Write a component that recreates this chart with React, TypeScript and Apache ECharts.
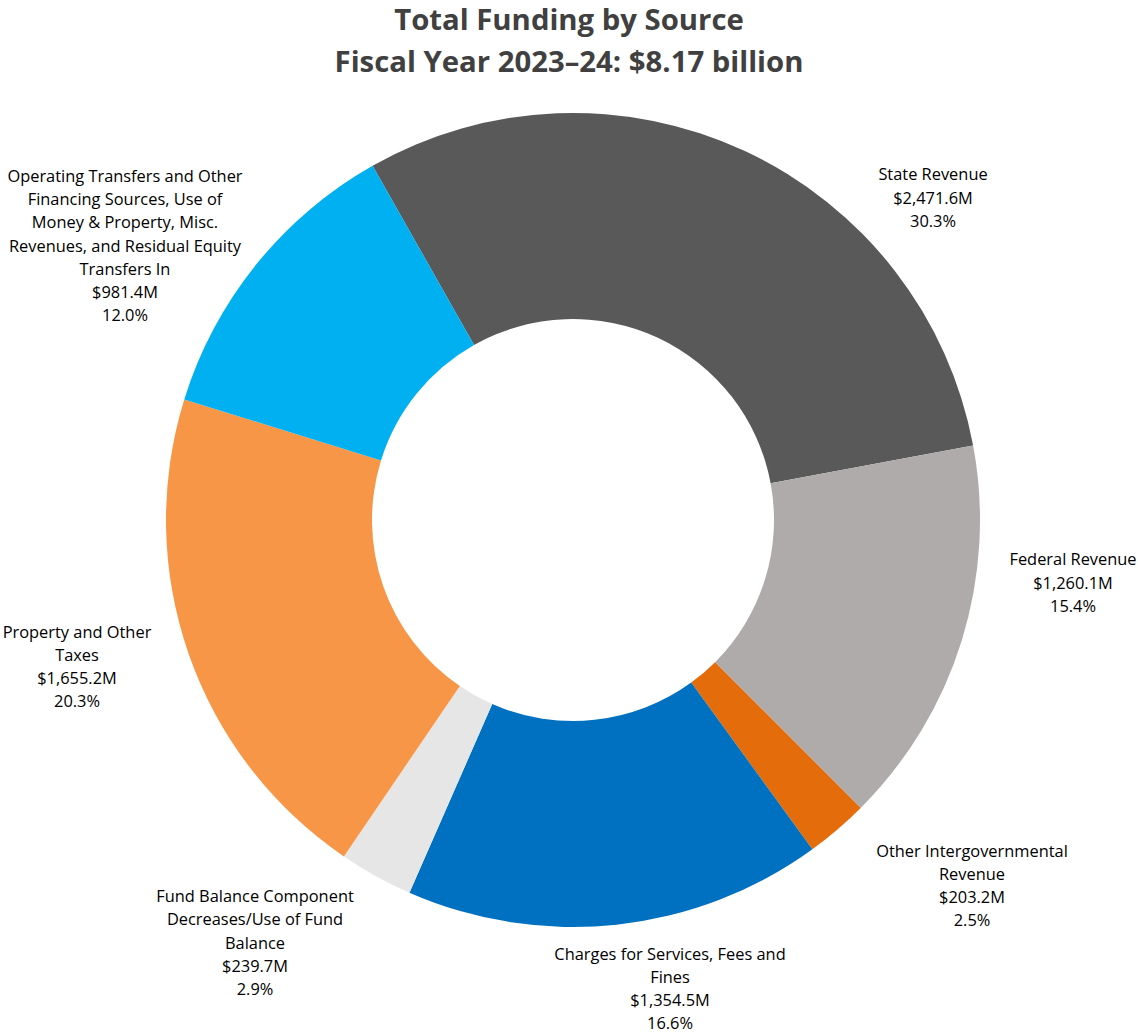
import React, { useEffect, useRef } from "react";
import * as echarts from "echarts";

const categories = [
  "State Revenue",
  "Federal Revenue",
  "Other Intergovernmental\nRevenue",
  "Charges for Services, Fees and\nFines",
  "Fund Balance Component\nDecreases/Use of Fund\nBalance",
  "Property and Other\nTaxes",
  "Operating Transfers and Other\nFinancing Sources, Use of\nMoney & Property, Misc.\nRevenues, and Residual Equity\nTransfers In",
];
const values = [2471.6, 1260.1, 203.2, 1354.5, 239.7, 1655.2, 981.4];
const percentLabels = ["30.3%", "15.4%", "2.5%", "16.6%", "2.9%", "20.3%", "12.0%"];
const colors = ["#595959", "#AFABAB", "#E46C0A", "#0070C0", "#E7E6E6", "#F79646", "#00B0F0"];
// label block centres (layout only)
const labelPos = [
  [933, 197],
  [1073, 582],
  [972, 885],
  [670, 988],
  [255, 942],
  [77, 666],
  [125, 245],
];

const fmtMoney = (v: number) =>
  "$" + v.toLocaleString("en-US", { minimumFractionDigits: 1, maximumFractionDigits: 1 }) + "M";

export default function App() {
  const ref = useRef<HTMLDivElement>(null);
  useEffect(() => {
    document.body.style.margin = "0";
    const chart = echarts.init(ref.current!, null, { renderer: "svg" });
    chart.setOption({
      animation: false,
      backgroundColor: "#ffffff",
      title: {
        text: "Total Funding by Source\nFiscal Year 2023–24: $8.17 billion",
        left: "center",
        top: -7,
        textStyle: {
          fontFamily: "Open Sans",
          fontWeight: "bold",
          fontSize: 29.3,
          lineHeight: 42,
          color: "#404040",
        },
      },
      series: [
        {
          type: "pie",
          center: [573, 520],
          radius: [201, 407],
          startAngle: 119.5,
          clockwise: true,
          avoidLabelOverlap: false,
          itemStyle: { borderWidth: 0 },
          emphasis: { disabled: true },
          data: categories.map((c, i) => ({
            name: c,
            value: values[i],
            itemStyle: { color: colors[i] },
          })),
          label: {
            show: true,
            position: "outside",
            formatter: (p: any) =>
              `${categories[p.dataIndex]}\n${fmtMoney(values[p.dataIndex])}\n${percentLabels[p.dataIndex]}`,
            fontFamily: "Open Sans",
            fontSize: 16.4,
            lineHeight: 23.3,
            color: "#000000",
            align: "center",
          },
          labelLine: { show: false },
          labelLayout: (params: any) => ({
            x: labelPos[params.dataIndex][0],
            y: labelPos[params.dataIndex][1],
            align: "center",
            verticalAlign: "middle",
          }),
        },
      ],
    });
    return () => chart.dispose();
  }, []);
  return <div ref={ref} style={{ width: 1138, height: 1036 }} />;
}
